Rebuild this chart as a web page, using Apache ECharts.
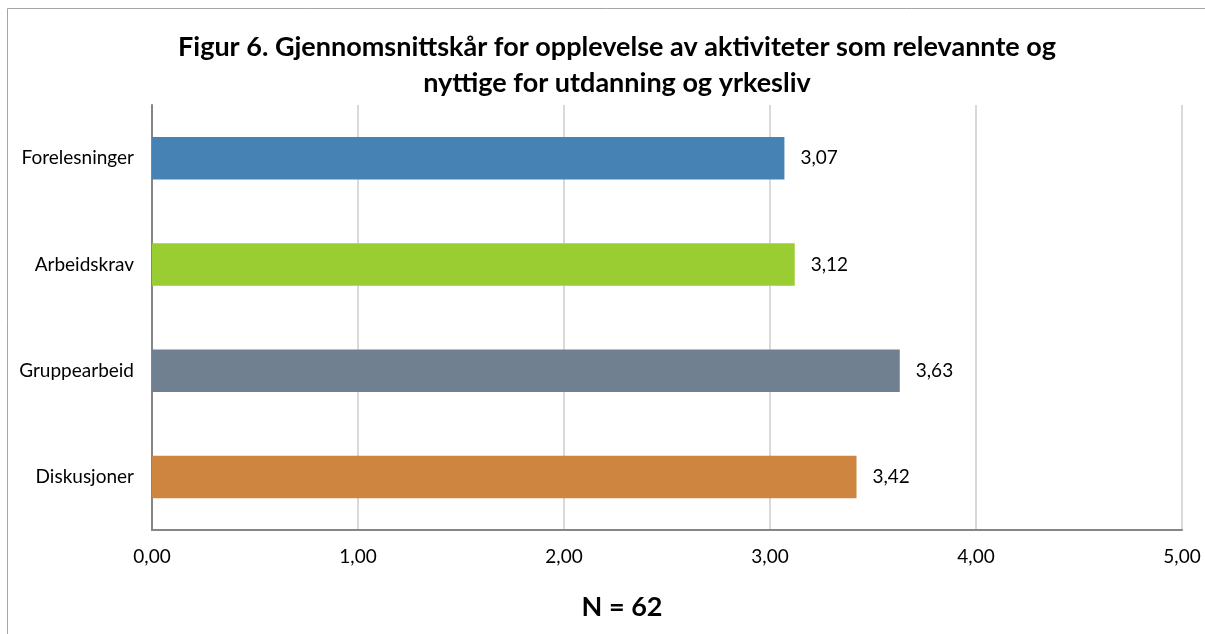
<!DOCTYPE html>
<html>
<head>
<meta charset="utf-8">
<script src="https://cdn.jsdelivr.net/npm/echarts@6/dist/echarts.min.js"></script>
<style>
  html, body { margin: 0; padding: 0; background: #fff; }
  #chart { width: 1205px; height: 634px; }
</style>
</head>
<body>
<div id="chart"></div>
<script>
// data
const categories = ['Forelesninger', 'Arbeidskrav', 'Gruppearbeid', 'Diskusjoner']
const values = [3.07, 3.12, 3.63, 3.42]
const barColors = ['#4682B4', '#9ACD32', '#708090', '#CD853F']
const titleText = 'Figur 6. Gjennomsnittskår for opplevelse av aktiviteter som relevannte og\nnyttige for utdanning og yrkesliv'
const footText = 'N = 62'

const fmt = v => v.toFixed(2).replace('.', ',')
const font = 'Lato, "Open Sans", sans-serif'

const chart = echarts.init(document.getElementById('chart'))
chart.setOption({
  animation: false,
  textStyle: { fontFamily: font },
  title: [
    {
      text: titleText,
      left: 612,
      top: 24,
      textAlign: 'center',
      textStyle: { fontSize: 27, fontWeight: 'bold', color: '#000', lineHeight: 36, fontFamily: font }
    },
    {
      text: footText,
      left: 617,
      top: 589,
      textAlign: 'center',
      textStyle: { fontSize: 27, fontWeight: 'bold', color: '#000', fontFamily: font }
    }
  ],
  graphic: [{
    type: 'rect',
    shape: { x: 7.5, y: 8.5, width: 1210, height: 640 },
    style: { fill: 'none', stroke: '#a6a6a6', lineWidth: 1 },
    silent: true
  }],
  grid: { left: 152, right: 23, top: 105, bottom: 104, containLabel: false },
  xAxis: {
    type: 'value',
    min: 0,
    max: 5,
    interval: 1,
    axisLine: { show: true, lineStyle: { color: '#868686', width: 2 } },
    axisTick: { show: false },
    axisLabel: { formatter: fmt, fontSize: 19, color: '#000', margin: 17 },
    splitLine: { show: true, lineStyle: { color: '#d9d9d9', width: 2 } }
  },
  yAxis: {
    type: 'category',
    inverse: true,
    data: categories,
    axisLine: { show: true, lineStyle: { color: '#868686', width: 2 } },
    axisTick: { show: false },
    axisLabel: { fontSize: 19, color: '#000', margin: 18 }
  },
  series: [{
    type: 'bar',
    data: values.map((v, i) => ({ value: v, itemStyle: { color: barColors[i] } })),
    barWidth: '40%',
    label: {
      show: true,
      position: 'right',
      distance: 16,
      formatter: p => fmt(p.value),
      fontSize: 19,
      color: '#000'
    }
  }]
})
</script>
</body>
</html>
